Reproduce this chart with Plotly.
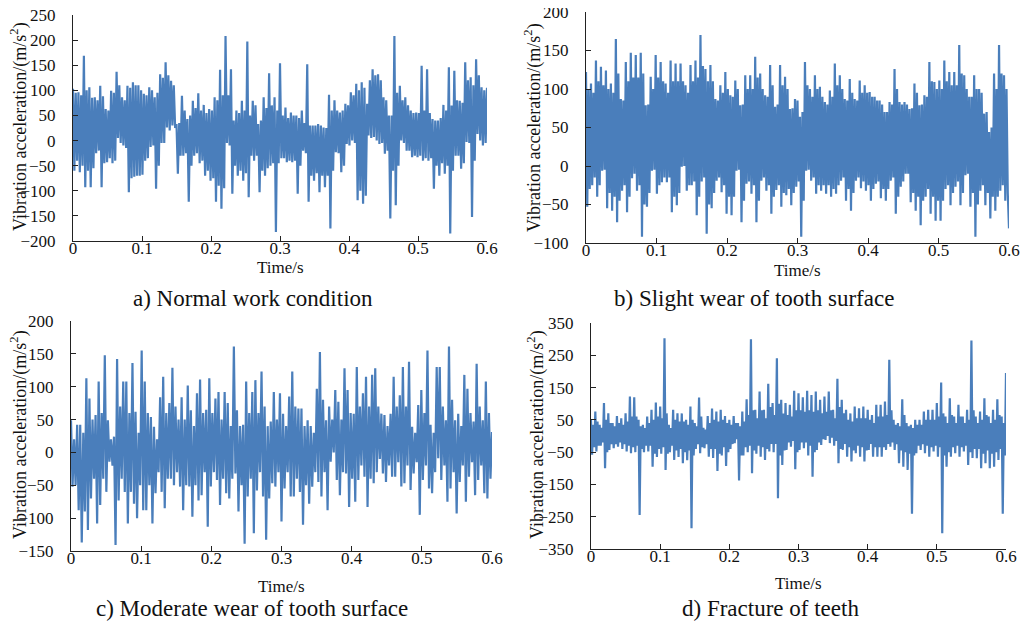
import numpy as np
import plotly.graph_objects as go

# ---- data (vibration acceleration, m/s^2) ----
# "peaks": successive high/low extremes of the trace; "core": the dense inner oscillation
normal_peaks = [103,-60, 96,-63, 169,-93, 106,-93, 86,-25, 109,-93, 63,-43, 99,-45, 137,5, 86,-10,
                109,-103, 116,-72, 110,-70, 93,-40, 106,-13, 86,-96, 132,-5, 156,26, 119,30, 33,-66,
                89,-30, 43,-122, 79,-30, 94,-45, 71,-70, 63,-80, 86,-122, 141,-136, 208,-5, 142,-106,
                60,-70, 79,-80, 197,-113, 79,-40, 33,-103, 86,-70, 134,-50, 86,-182, 154,-35, 66,-43,
                56,-43, 50,-106, 60,-20, 152,-122, 30,-80, 33,-103, 26,-93, 91,-175, 80,-23, 56,-63,
                73,-7, 96,0, 113,-119, 116,-126, 73,10, 142,7, 132,-7, 86,-26, 50,-155, 208,-129,
                109,0, 86,-20, 60,-33, 56,-33, 149,-40, 142,-40, 43,-96, 40,-70, 71,-66, 146,-185,
                139,-30, 79,-56, 156,-3, 126,-152, 162,13, 106,-10, 105]
normal_core = [95,-40, 90,-50, 100,-60, 85,-55, 80,-20, 88,-45, 60,-35, 95,-40, 110,-5, 80,-15,
               105,-75, 110,-70, 100,-68, 90,-35, 100,-10, 95,-50, 125,-5, 130,20, 110,25, 35,-30,
               60,-25, 50,-50, 65,-25, 60,-40, 55,-60, 60,-75, 80,-90, 90,-95, 90,-10, 40,-50,
               55,-60, 60,-65, 50,-30, 70,-30, 40,-60, 65,-55, 70,-45, 60,-45, 50,-35, 45,-40,
               50,-40, 45,-50, 35,-25, 30,-70, 30,-65, 30,-70, 25,-70, 60,-60, 60,-25, 60,-50,
               70,-10, 90,-5, 100,-100, 105,-110, 120,5, 130,0, 120,-5, 80,-20, 50,-60, 95,-50,
               80,-5, 70,-20, 55,-30, 55,-30, 60,-35, 55,-35, 40,-50, 45,-45, 60,-50, 70,-60,
               80,-30, 75,-45, 120,-5, 110,-40, 130,0, 100,-5]

slight_peaks = [122,-53, 107,-25, 137,-40, 129,-6, 124,-55, 107,-58, 165,-73, 87,-32, 135,-60, 147,-16,
                144,-32, 147,-92, 79,-53, 116,-6, 144,-36, 135,-21, 107,-21, 137,-60, 133,-51, 133,-1,
                105,-32, 131,-25, 137,-64, 170,-20, 126,-88, 131,-55, 87,-19, 105,-34, 122,-62, 92,-64,
                111,-6, 79,-73, 118,-23, 118,-36, 142,-73, 120,-19, 92,-32, 131,-62, 77,-31, 131,-53,
                116,-38, 74,-51, 87,-27, 64,-92, 135,-6, 100,-19, 118,-36, 103,-32, 83,-36, 98,-40,
                133,-36, 118,-19, 87,-45, 113,-58, 87,-19, 111,-29, 105,-32, 96,-45, 90,-23, 85,-42,
                70,-45, 83,-19, 126,-62, 83,-27, 83,-10, 74,-47, 107,-58, 79,-77, 92,-40, 135,-62,
                109,-71, 111,-71, 137,-30, 122,-51, 122,-27, 157,-51, 118,-12, 90,-53, 118,-92, 100,-32,
                68,-51, 44,-68, 120,-58, 157,-32, 118,-45, -81]
slight_core = [100,-30, 95,-15, 110,-25, 105,-5, 100,-35, 95,-40, 120,-45, 85,-25, 110,-40, 115,-10,
               115,-25, 120,-50, 80,-35, 100,-5, 115,-25, 110,-15, 95,-15, 110,-40, 110,-35, 110,0,
               95,-25, 110,-20, 115,-40, 130,-15, 110,-50, 110,-35, 85,-15, 95,-25, 100,-40, 90,-40,
               100,-5, 80,-45, 100,-20, 100,-25, 115,-45, 100,-15, 90,-25, 105,-40, 80,-25, 105,-35,
               100,-30, 75,-35, 85,-20, 70,-45, 105,-5, 90,-15, 100,-25, 90,-25, 80,-25, 90,-30,
               105,-25, 100,-15, 85,-30, 95,-35, 85,-15, 95,-20, 95,-25, 90,-30, 85,-20, 80,-30,
               70,-30, 80,-15, 100,-40, 80,-20, 80,-10, 75,-35, 95,-40, 80,-45, 90,-30, 110,-40,
               100,-45, 100,-45, 110,-25, 105,-35, 105,-20, 120,-35, 100,-10, 90,-35, 100,-50, 95,-25,
               70,-35, 50,-40, 100,-40, 120,-25, 100,-35]

moderate_peaks = [49,-52, 42,-88, 42,-137, 113,-118, 82,-70, 57,-108, 108,-80, 148,-60, 49,-14, 24,-141,
                  142,-73, 108,-60, 108,-108, 136,-78, 62,-100, 155,-88, 108,-88, 54,-108, 39,-62, 84,-60,
                  115,-85, 75,-40, 129,-50, 50,-52, 84,-88, 102,-52, 64,-98, 90,-73, 111,-65, 65,-113,
                  113,-52, 82,-42, 92,-80, 92,-62, 75,-70, 161,-32, 64,-90, 42,-139, 108,-67, 92,-123,
                  110,-58, 123,-67, 70,-133, 47,-47, 92,-52, 90,-105, 59,-55, 85,-67, 123,-67, 67,-60,
                  67,-110, 49,-78, 40,-52, 97,-45, 153,-67, 49,-88, 70,-14, 95,-42, 77,-65, 128,-32,
                  95,-83, 59,-75, 130,-42, 90,-37, 115,-83, 118,-47, 128,-30, 59,-32, 57,-45, 59,-37,
                  115,-37, 87,-52, 130,-47, 138,-57, 39,-32, 72,-95, 95,-42, 155,-55, 42,-62, 130,-9,
                  130,-42, 49,-75, 161,-55, 49,-93, 59,-45, 118,-75, 97,-37, 47,-65, 135,-42, 49,-62,
                  108,-70, 31]
moderate_core = [20,-50, 30,-90, 50,-40, 60,-40, 20,-20, 70,-40, 60,-60, 30,-50, 60,-50, 20,-30,
                 60,-40, 70,-30, 50,-50, 40,-50, 60,-30, 60,-30, 50,-40, 40,-40, 40,-50, 60,-40,
                 60,-30, 40,-70, 50,-30, 40,-30, 70,-40, 40,-50, 30,-30, 80,-30, 50,0, 50,-30,
                 60,-40, 70,-20, 70,-40, 70,-10, 40,-20, 70,-15, 70,-20, 30,-15, 60,-20, 30,-30,
                 70,-20, 80,-30, 40,-20, 60,-15, 70,-20, 60,-40]

fracture_peaks = [50,-58, 76,-48, 35,-30, 102,-100, 70,-43, 40,-38, 62,-33, 55,-40, 70,-48, 122,-53,
                  120,-50, 50,-245, 35,-50, 60,-48, 81,-95, 104,-65, 91,-55, 303,-105, 35,-50, 81,-74,
                  70,-65, 70,-84, 50,-75, 91,-286, 40,-40, 119,-53, 25,-38, 62,-64, 85,-68, 76,-108,
                  81,-60, 62,-93, 50,-40, 62,-22, 40,-138, 76,-60, 114,-50, 300,-115, 81,-55, 138,-64,
                  81,-74, 162,-48, 102,-50, 241,-193, 112,-90, 102,-43, 97,-33, 140,-103, 132,-43, 120,-38,
                  140,-60, 127,-126, 138,-43, 112,-28, 122,-12, 138,-22, 81,-30, 177,-84, 112,-43, 81,-64,
                  70,-79, 91,-53, 86,-64, 91,-79, 81,-43, 65,-64, 97,-64, 97,-64, 107,-43, 236,-33,
                  50,-43, 40,-84, 114,-95, 40,-105, 35,-241, 50,-53, 50,-43, 76,-53, 81,-64, 81,-48,
                  102,-64, 166,-301, 60,-95, 117,-64, 60,-53, 97,-64, 60,-48, 81,-90, 296,-68, 60,-69,
                  76,-100, 117,-84, 60,-100, 81,-95, 114,-74, 60,-241, 195]
fracture_core = [35,-35, 45,-30, 25,-20, 50,-50, 40,-25, 30,-25, 40,-20, 35,-25, 45,-30, 60,-35,
                 60,-30, 30,-40, 25,-30, 40,-30, 50,-55, 60,-40, 55,-35, 70,-55, 25,-30, 50,-45,
                 45,-40, 45,-50, 35,-45, 50,-60, 30,-25, 60,-35, 20,-25, 40,-40, 50,-40, 45,-55,
                 50,-35, 40,-50, 35,-25, 40,-10, 30,-60, 45,-35, 65,-30, 80,-45, 55,-30, 80,-35,
                 55,-40, 90,-25, 65,-25, 100,-60, 70,-45, 65,-20, 60,-15, 80,-50, 80,-20, 75,-20,
                 80,-30, 75,-50, 80,-20, 70,-10, 75,0, 80,-5, 55,-15, 90,-40, 70,-25, 50,-35,
                 45,-45, 55,-30, 55,-35, 55,-45, 50,-25, 40,-35, 60,-35, 60,-35, 65,-25, 80,-20,
                 35,-25, 30,-45, 65,-50, 30,-55, 25,-60, 35,-30, 35,-25, 50,-30, 50,-35, 50,-30,
                 60,-35, 70,-60, 40,-50, 65,-35, 40,-30, 60,-35, 40,-30, 50,-50, 80,-40, 40,-40,
                 50,-55, 65,-45, 40,-55, 50,-50, 65,-40, 40,-60]

x_ticks = [0, 0.1, 0.2, 0.3, 0.4, 0.5, 0.6]
x_tick_text = ["0", "0.1", "0.2", "0.3", "0.4", "0.5", "0.6"]
captions = ["a) Normal work condition", "b) Slight wear of tooth surface",
            "c) Moderate wear of tooth surface", "d) Fracture of teeth"]
y_ranges = [(-200, 250, 50), (-100, 200, 50), (-150, 200, 50), (-350, 350, 100)]
y_title = "Vibration acceleration/(m/s<sup>2</sup>)"
x_title = "Time/s"

panels = [(normal_peaks, normal_core, 1), (slight_peaks, slight_core, 1),
          (moderate_peaks, moderate_core, 2), (fracture_peaks, fracture_core, 1)]


def merge(peaks, core, step):
    """Put the inner oscillation pair read after every `step` high/low extreme pairs."""
    out = []
    npairs = len(peaks) // 2
    for k in range(npairs):
        out += peaks[2 * k:2 * k + 2]
        if k % step == 0:
            j = k // step
            out += core[2 * j:2 * j + 2]
    out += peaks[2 * npairs:]
    return out


# the page body has an 8px margin, so the figure is drawn 8px in from the window corner
OFF = 8
W, H = 1029 - OFF, 622 - OFF
FONT = "Liberation Serif"
LINE = "#4a7ebb"
TXT = "#111111"


def px(x):
    return (x - OFF) / W


def py(y):
    return 1 - (y - OFF) / H


# panel geometry in window pixels: (x_left, x_right, y_top, y_bottom)
boxes = [(73, 487, 15, 241), (586, 1009, 12, 243), (71, 492, 321, 551), (591, 1006, 323, 549)]
ytitle_pos = [(19, 127), (533, 128), (19, 435), (536, 435)]
xtitle_pos = [(280, 267), (797, 270), (281, 586), (798, 583)]
cap_pos = [(253, 298), (754, 298), (252, 608), (770, 608)]

fig = go.Figure()
annotations = []
for i, (pk, core, step) in enumerate(panels):
    vals = merge(pk, core, step)
    n = i + 1
    t = np.linspace(0, 0.6, len(vals))
    xa = "x" if n == 1 else f"x{n}"
    ya = "y" if n == 1 else f"y{n}"
    fig.add_trace(go.Scatter(x=t, y=vals, mode="lines", xaxis=xa, yaxis=ya,
                             line=dict(color=LINE, width=2.2), showlegend=False,
                             hoverinfo="skip"))
    xl, xr, yt, yb = boxes[i]
    lo, hi, dt = y_ranges[i]
    xkey = "xaxis" if n == 1 else f"xaxis{n}"
    ykey = "yaxis" if n == 1 else f"yaxis{n}"
    fig.update_layout(**{
        xkey: dict(domain=[px(xl), px(xr)], anchor=ya, range=[0, 0.6], automargin=False,
                   tickvals=x_ticks, ticktext=x_tick_text, ticks="inside", ticklen=5,
                   tickcolor="#222", showline=True, linecolor="#222", linewidth=1,
                   ticklabelstandoff=-8, ticklabeloverflow="allow",
                   showgrid=False, zeroline=False, tickfont=dict(family=FONT, size=17, color=TXT)),
        ykey: dict(domain=[py(yb), py(yt)], anchor=xa, range=[lo, hi], automargin=False,
                   tick0=lo, dtick=dt, ticks="inside", ticklen=5, tickcolor="#222",
                   showline=True, linecolor="#222", linewidth=1, showgrid=False, zeroline=False,
                   ticklabelstandoff=13, ticklabeloverflow="allow",
                   tickfont=dict(family=FONT, size=17, color=TXT)),
    })
    tx, ty = ytitle_pos[i]
    annotations.append(dict(text=y_title, x=px(tx), y=py(ty), xref="paper", yref="paper",
                            textangle=-90, showarrow=False, xanchor="center", yanchor="middle",
                            font=dict(family=FONT, size=18, color=TXT)))
    tx, ty = xtitle_pos[i]
    annotations.append(dict(text=x_title, x=px(tx), y=py(ty), xref="paper", yref="paper",
                            showarrow=False, xanchor="center", yanchor="middle",
                            font=dict(family=FONT, size=17, color=TXT)))
    tx, ty = cap_pos[i]
    annotations.append(dict(text=captions[i], x=px(tx), y=py(ty), xref="paper", yref="paper",
                            showarrow=False, xanchor="center", yanchor="middle",
                            font=dict(family=FONT, size=23, color=TXT)))

fig.update_layout(width=W, height=H, margin=dict(l=0, r=0, t=0, b=0),
                  paper_bgcolor="white", plot_bgcolor="white", annotations=annotations)

fig.write_html("out.html")
